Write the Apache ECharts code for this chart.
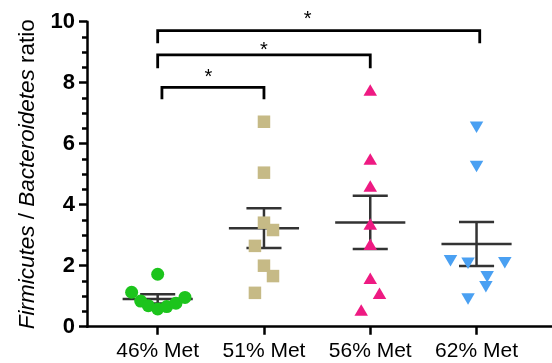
<!DOCTYPE html>
<html>
<head>
<meta charset="utf-8">
<script src="https://cdn.jsdelivr.net/npm/echarts@6/dist/echarts.min.js"></script>
<style>html,body{margin:0;padding:0;background:#fff;}#c{width:552px;height:363px;}</style>
</head>
<body>
<div id="c"></div>
<script>
// ---- data ----
const categories = ['46% Met', '51% Met', '56% Met', '62% Met'];
const groupX = [1, 2, 3, 4];
const ratio46 = [1.72, 1.13, 0.84, 0.69, 0.58, 0.66, 0.77, 0.96];
const jitter46 = [0, -0.245, -0.16, -0.088, 0, 0.085, 0.172, 0.257];
const ratio51 = [6.72, 5.05, 3.41, 3.17, 2.65, 2.0, 1.66, 1.11];
const jitter51 = [0, 0, 0, 0.085, -0.085, 0, 0.085, -0.085];
const ratio56 = [7.76, 5.5, 4.61, 3.37, 2.7, 1.59, 1.1, 0.55];
const jitter56 = [0, 0, 0, 0, 0, 0, 0.087, -0.085];
const ratio62 = [6.54, 5.25, 2.16, 2.08, 2.1, 1.64, 1.31, 0.91];
const jitter62 = [0, 0, -0.245, -0.08, 0.266, 0.1, 0.088, -0.08];
const groupMean = [0.91, 3.23, 3.42, 2.71];
const groupSem = [0.15, 0.65, 0.87, 0.72];
const bracketStart = [1.0, 1.0, 1.04];
const bracketEnd = [4.03, 3.0, 2.0];
const bracketTop = [9.71, 8.91, 7.85];
const bracketLeg = [9.29, 8.47, 7.46];
const starX = [2.41, 2.0, 1.476];
const starY = [10.22, 9.2, 8.31];
const yTicks = {min: 0, max: 10, interval: 2};

const FONT = 'Liberation Sans, Arial, sans-serif';
const pts = (vals, jit, gx) => vals.map((v, i) => [gx + jit[i], v]);

const chart = echarts.init(document.getElementById('c'), null, {renderer: 'canvas'});
const option = {
  animation: false,
  grid: {left: 87, right: 0, top: 21.7, bottom: 36.3},
  xAxis: {
    type: 'value', min: 0.335, max: 4.71,
    axisLine: {onZero: false, lineStyle: {color: '#000', width: 2.5}},
    splitLine: {show: false},
    axisTick: {show: true, customValues: groupX, length: 8, lineStyle: {color: '#000', width: 2.5}},
    axisLabel: {customValues: groupX, formatter: v => categories[Math.round(v) - 1],
      fontSize: 21, color: '#000', margin: 14, fontFamily: FONT}
  },
  yAxis: {
    type: 'value', min: yTicks.min, max: yTicks.max, interval: yTicks.interval,
    axisLine: {show: true, onZero: false, lineStyle: {color: '#000', width: 2.5}},
    splitLine: {show: false},
    axisTick: {show: true, length: 8, lineStyle: {color: '#000', width: 2.5}},
    minorTick: {show: true, splitNumber: 4, length: 5, lineStyle: {color: '#000', width: 2.5}},
    axisLabel: {fontSize: 22, fontWeight: 'bold', color: '#000', margin: 12, fontFamily: FONT},
    name: '{i|Firmicutes} / {i|Bacteroidetes} ratio',
    nameLocation: 'middle', nameRotate: 90, nameGap: 44,
    nameTextStyle: {fontSize: 22.5, color: '#000', fontFamily: FONT,
      rich: {i: {fontStyle: 'italic', fontSize: 22.5, color: '#000', fontFamily: FONT}}}
  },
  series: [
    {
      type: 'custom', z: 2,
      data: groupX.map((x, i) => [x, groupMean[i], groupSem[i]]),
      renderItem: (params, api) => {
        const x = api.value(0), m = api.value(1), s = api.value(2);
        const st = {stroke: '#333', lineWidth: 2.5};
        const seg = (x1, y1, x2, y2) => {
          const a = api.coord([x1, y1]), b = api.coord([x2, y2]);
          return {type: 'line', shape: {x1: a[0], y1: a[1], x2: b[0], y2: b[1]}, style: st};
        };
        return {type: 'group', children: [
          seg(x - 0.33, m, x + 0.33, m),
          seg(x, m - s, x, m + s),
          seg(x - 0.165, m + s, x + 0.165, m + s),
          seg(x - 0.165, m - s, x + 0.165, m - s)
        ]};
      }
    },
    {type: 'scatter', z: 3, symbol: 'circle', symbolSize: 13, itemStyle: {color: '#1cc41c', opacity: 1},
      data: pts(ratio46, jitter46, groupX[0])},
    {type: 'scatter', z: 3, symbol: 'rect', symbolSize: 12.5, itemStyle: {color: '#c6ba86', opacity: 1},
      data: pts(ratio51, jitter51, groupX[1])},
    {type: 'scatter', z: 3, symbol: 'triangle', symbolSize: [13.5, 11.5], itemStyle: {color: '#ee1a82', opacity: 1},
      data: pts(ratio56, jitter56, groupX[2])},
    {type: 'scatter', z: 3, symbol: 'triangle', symbolRotate: 180, symbolSize: [13.5, 11.5], itemStyle: {color: '#4aa0f2', opacity: 1},
      data: pts(ratio62, jitter62, groupX[3])},
    {
      type: 'custom', z: 4, clip: false,
      data: bracketStart.map((s, i) => [s, bracketEnd[i], bracketTop[i], bracketLeg[i]]),
      renderItem: (params, api) => {
        const a = api.coord([api.value(0), api.value(3)]);
        const b = api.coord([api.value(0), api.value(2)]);
        const c = api.coord([api.value(1), api.value(2)]);
        const d = api.coord([api.value(1), api.value(3)]);
        return {type: 'polyline', shape: {points: [a, b, c, d]},
          style: {stroke: '#000', lineWidth: 2.8, fill: null}};
      }
    },
    {
      type: 'custom', z: 4, clip: false,
      data: starX.map((x, i) => [x, starY[i]]),
      renderItem: (params, api) => {
        const p = api.coord([api.value(0), api.value(1)]);
        return {type: 'text', x: p[0], y: p[1] + 4,
          style: {text: '*', fontSize: 20, fontFamily: FONT, fill: '#000', align: 'center', verticalAlign: 'middle'}};
      }
    }
  ]
};
chart.setOption(option);
</script>
</body>
</html>
